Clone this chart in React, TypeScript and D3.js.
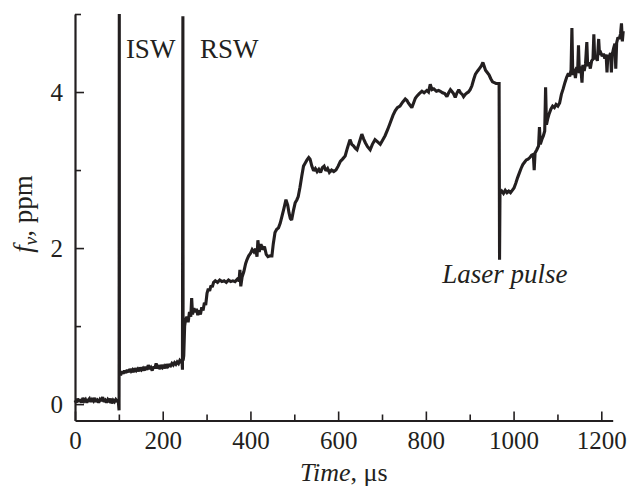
import { useEffect, useRef } from 'react';
import * as d3 from 'd3';

// time, µs
const times: number[] = [
  0, 3, 6, 9, 12, 15, 18, 21, 24, 27, 30, 33, 36, 39, 42, 45, 48, 51, 54, 57, 60, 63, 66, 69, 72, 75, 78, 81, 84, 87, 90, 93, 96, 99,
  100.5, 101, 101.3,
  104, 107, 110, 113, 116, 119, 122, 125, 128, 131, 134, 137, 140, 143, 146, 149, 152, 155, 158, 161, 164, 167, 170, 173, 176, 179,
  182, 185, 188, 191, 194, 197, 200, 203, 206, 209, 212, 215, 218, 221, 224, 227, 230, 233, 236, 239, 242, 244,
  245, 246, 246.5, 248, 250, 252, 255, 258, 261, 264, 266, 268, 271, 274, 277, 280, 283, 286, 289, 292, 295, 298, 301, 304, 307, 310,
  313, 316, 320, 325, 330, 335, 340, 345, 350, 355, 360, 365, 370, 374, 376, 378, 381, 385, 389, 392, 396, 400, 404, 408, 412, 415,
  417, 420, 424, 428, 432, 436, 440, 445, 449, 452, 456, 460, 464, 468, 472, 476, 481, 485, 488, 491, 494, 498, 502, 506, 509, 513,
  517, 521, 525, 529, 533, 536, 540, 544, 548, 552, 556, 560, 564, 568, 572, 576, 580, 585, 590, 595, 600, 605, 610, 616, 621, 627,
  631, 635, 639, 643, 648, 654, 658, 662, 667, 673, 678, 684, 690, 696, 701, 707, 713, 719, 725, 730, 735, 741, 747, 753, 757, 760,
  764, 768, 772, 776, 780, 785, 791, 796, 802, 806, 810, 814, 818, 824, 829, 833, 838, 843, 848, 852, 856, 859, 863, 867, 871, 875,
  879, 883, 886, 890, 894, 897, 901, 905, 909, 913, 918, 922, 926, 930, 933, 936, 940, 944, 948, 952, 956, 960, 964, 967,
  968, 969, 973, 977, 981, 985, 989, 993, 997, 1001, 1005, 1009, 1013, 1017, 1021, 1025, 1029, 1033, 1037, 1041, 1045, 1047, 1049,
  1053, 1057, 1059, 1061, 1065, 1068, 1071, 1073, 1075, 1078, 1081, 1085, 1089, 1093, 1097, 1101, 1105, 1109, 1113, 1117, 1121,
  1125, 1128, 1131, 1133, 1135, 1138, 1141, 1144, 1146, 1148, 1150, 1153, 1156, 1158, 1161, 1164, 1167, 1169, 1172, 1175, 1178,
  1181, 1183, 1185, 1188, 1191, 1194, 1196, 1199, 1202, 1205, 1208, 1211, 1213, 1215, 1218, 1221, 1223, 1225, 1228, 1231, 1233,
  1235, 1238, 1241, 1244, 1246, 1248, 1250,
];

// soot volume fraction f_v, ppm
const fv: number[] = [
  0.05, 0.02, 0.07, 0.03, 0.06, 0.02, 0.08, 0.04, 0.06, 0.02, 0.05, 0.07, 0.03, 0.06, 0.04, 0.08, 0.03, 0.05, 0.02, 0.06, 0.04, 0.09, 0.03, 0.05, 0.02, 0.06, 0.04, 0.07, 0.01, 0.05, 0.03, 0.06, 0.04, 0.02,
  -0.08, 5.0, 0.4,
  0.37, 0.42, 0.39, 0.43, 0.4, 0.44, 0.41, 0.45, 0.42, 0.44, 0.41, 0.46, 0.43, 0.45, 0.42, 0.47, 0.44, 0.46, 0.43, 0.48, 0.44, 0.5, 0.45, 0.47, 0.43, 0.48,
  0.46, 0.52, 0.46, 0.48, 0.45, 0.5, 0.47, 0.49, 0.46, 0.51, 0.48, 0.5, 0.49, 0.52, 0.5, 0.53, 0.51, 0.54, 0.52, 0.56, 0.54, 0.57,
  0.44, 4.97, 0.56, 0.62, 1.0, 1.08, 1.12, 1.05, 1.18, 1.12, 1.36, 1.15, 1.23, 1.18, 1.22, 1.14, 1.2, 1.15, 1.24, 1.2, 1.3, 1.27, 1.42, 1.48, 1.45, 1.52,
  1.5, 1.56, 1.58, 1.56, 1.59, 1.57, 1.58, 1.56, 1.59, 1.57, 1.58, 1.57, 1.6, 1.58, 1.72, 1.51, 1.63, 1.7, 1.8, 1.85, 1.9, 1.93, 1.98, 1.95, 1.99, 1.89,
  2.1, 1.95, 2.05, 1.98, 2.02, 1.92, 1.89, 1.9, 1.9, 2.05, 2.2, 2.24, 2.26, 2.32, 2.41, 2.5, 2.62, 2.55, 2.45, 2.38, 2.36, 2.48, 2.58, 2.62, 2.66, 2.78,
  2.92, 3.05, 3.09, 3.13, 3.16, 3.14, 3.05, 2.99, 3.02, 2.98, 3.01, 2.97, 3.03, 3.05, 2.99, 3.02, 2.97, 3.0, 2.98, 3.0, 3.05, 3.11, 3.14, 3.18, 3.28, 3.39,
  3.33, 3.31, 3.28, 3.26, 3.35, 3.46, 3.4, 3.35, 3.3, 3.26, 3.33, 3.39, 3.36, 3.33, 3.38, 3.44, 3.52, 3.61, 3.7, 3.76, 3.8, 3.82, 3.87, 3.91, 3.89, 3.86,
  3.83, 3.8, 3.86, 3.92, 3.95, 3.98, 4.01, 3.99, 4.02, 4.0, 4.1, 4.03, 4.04, 4.01, 4.02, 4.01, 3.99, 3.98, 3.94, 3.99, 4.03, 4.01, 3.98, 3.93, 3.99, 4.03,
  3.99, 3.97, 3.94, 3.97, 3.99, 4.0, 4.03, 4.08, 4.16, 4.23, 4.27, 4.3, 4.33, 4.38, 4.33, 4.28, 4.25, 4.22, 4.17, 4.13, 4.12, 4.11, 4.11, 4.11,
  1.85, 2.7, 2.73, 2.7, 2.74, 2.71, 2.73, 2.71, 2.74, 2.77, 2.83, 2.9, 2.96, 3.02, 3.07, 3.1, 3.13, 3.14, 3.16, 3.19, 3.2, 3.0, 3.22,
  3.26, 3.31, 3.55, 3.33, 3.4, 3.44, 3.5, 4.06, 3.58, 3.66, 3.72, 3.78, 3.82, 3.8, 3.84, 3.82, 3.86, 3.97, 4.04, 4.12, 4.19,
  4.24, 4.2, 4.28, 4.82, 4.22, 4.3, 4.18, 4.32, 4.25, 4.6, 4.24, 4.33, 4.12, 4.35, 4.27, 4.36, 4.64, 4.33, 4.38, 4.3, 4.4,
  4.42, 4.74, 4.42, 4.45, 4.4, 4.68, 4.48, 4.5, 4.46, 4.49, 4.43, 4.48, 4.25, 4.47, 4.45, 4.5, 4.25, 4.48, 4.56, 4.62, 4.3,
  4.63, 4.7, 4.68, 4.75, 4.88, 4.65, 4.78,
];

const xMajor = [0, 200, 400, 600, 800, 1000, 1200];
const xMinor = [100, 300, 500, 700, 900, 1100];
const yMajor = [0, 2, 4];
const yMinor = [1, 3, 5];

const annotations = [
  { text: 'ISW', t: 116, v: 4.44, italic: false, anchor: 'start' },
  { text: 'RSW', t: 285, v: 4.44, italic: false, anchor: 'start' },
  { text: 'Laser pulse', t: 980, v: 1.55, italic: true, anchor: 'middle' },
];

const W = 629;
const H = 488;
const ink = '#231f20';
const serif = '"Liberation Serif", "Times New Roman", serif';

const App = () => {
  const svgRef = useRef<SVGSVGElement | null>(null);

  useEffect(() => {
    const svg = d3.select(svgRef.current);
    svg.selectAll('*').remove();

    const x = d3.scaleLinear().domain([0, 1226]).range([75, 612.7]);
    const y = d3.scaleLinear().domain([-0.21, 5]).range([420.5, 14]);

    const data = times.map((t, i) => ({ t, v: fv[i] }));

    // Axes (ticks point inward)
    const gx = svg.append('g').attr('transform', `translate(0,${y(-0.21)})`);
    gx.call(
      d3.axisBottom(x).tickValues(xMajor).tickSizeInner(-9).tickSizeOuter(0).tickPadding(11)
        .tickFormat(d => String(d))
    );
    gx.append('g').call(
      d3.axisBottom(x).tickValues(xMinor).tickSizeInner(-6).tickSizeOuter(0).tickFormat(() => '')
    ).select('.domain').remove();

    const gy = svg.append('g').attr('transform', `translate(${x(0)},0)`);
    gy.call(
      d3.axisLeft(y).tickValues(yMajor).tickSizeInner(-9).tickSizeOuter(0).tickPadding(12)
        .tickFormat(d => String(d))
    );
    gy.append('g').call(
      d3.axisLeft(y).tickValues(yMinor).tickSizeInner(-6).tickSizeOuter(0).tickFormat(() => '')
    ).select('.domain').remove();

    svg.selectAll('.domain').attr('stroke', ink).attr('stroke-width', 2.2);
    svg.selectAll('.tick line').attr('stroke', ink).attr('stroke-width', 1.6);
    svg.selectAll('.tick text')
      .attr('fill', ink)
      .style('font-family', serif)
      .style('font-size', '25px');

    // Signal trace
    const line = d3.line<{ t: number; v: number }>()
      .x(d => x(d.t))
      .y(d => y(d.v));

    svg.append('path')
      .datum(data)
      .attr('d', line)
      .attr('fill', 'none')
      .attr('stroke', ink)
      .attr('stroke-width', 3.1)
      .attr('stroke-linejoin', 'miter')
      .attr('stroke-miterlimit', 2);

    // Annotations
    annotations.forEach(a => {
      svg.append('text')
        .attr('x', x(a.t))
        .attr('y', y(a.v))
        .attr('text-anchor', a.anchor)
        .attr('fill', ink)
        .style('font-family', serif)
        .style('font-size', '27px')
        .style('font-style', a.italic ? 'italic' : 'normal')
        .text(a.text);
    });

    // Axis titles
    const xt = svg.append('text')
      .attr('x', (75 + 612.7) / 2)
      .attr('y', 481)
      .attr('text-anchor', 'middle')
      .attr('fill', ink)
      .style('font-family', serif)
      .style('font-size', '26px');
    xt.append('tspan').style('font-style', 'italic').text('Time');
    xt.append('tspan').text(', μs');

    const yt = svg.append('text')
      .attr('transform', 'translate(32,214) rotate(-90)')
      .attr('text-anchor', 'middle')
      .attr('fill', ink)
      .style('font-family', serif)
      .style('font-size', '27px');
    yt.append('tspan').style('font-style', 'italic').text('f');
    yt.append('tspan').style('font-style', 'italic').style('font-size', '19px').attr('dy', 5).text('v');
    yt.append('tspan').attr('dy', -5).text(', ppm');
  }, []);

  return (
    <svg
      ref={svgRef}
      width={W}
      height={H}
      style={{ position: 'absolute', left: 0, top: 0, background: '#fff' }}
    />
  );
};

export default App;
